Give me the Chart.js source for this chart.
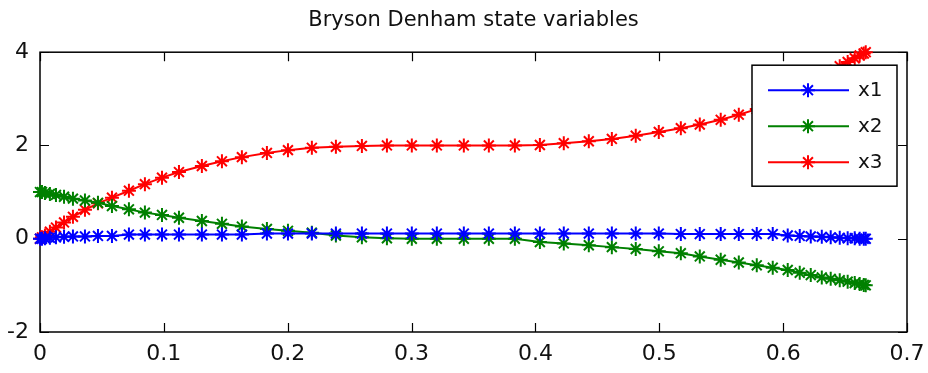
<!DOCTYPE html>
<html>
<head>
<meta charset="utf-8">
<title>Bryson Denham state variables</title>
<script src="https://cdn.jsdelivr.net/npm/chart.js@4.4.0/dist/chart.umd.min.js"></script>
<style>
  html, body { margin: 0; padding: 0; background: #fff; }
  #wrap { width: 928px; height: 373px; }
</style>
</head>
<body>
<div id="wrap"><canvas id="chart" width="928" height="373"></canvas></div>
<script>
/* --- Data --- */
const timeData = [
  0, 0.0016, 0.004, 0.008, 0.0129, 0.0194, 0.0266, 0.0363, 0.0468, 0.0581,
  0.0718, 0.0847, 0.0985, 0.1122, 0.1307, 0.1469, 0.1630, 0.1832, 0.2002, 0.2195,
  0.2389, 0.2599, 0.2801, 0.3002, 0.3204, 0.3422, 0.3624, 0.3834, 0.4036, 0.4229,
  0.4431, 0.4617, 0.4810, 0.4996, 0.5174, 0.5327, 0.5496, 0.5642, 0.5787, 0.5916,
  0.6037, 0.6134, 0.6223, 0.6312, 0.6384, 0.6457, 0.6521, 0.6578, 0.6618, 0.6651,
  0.6667
];
const x1Data = [
  0, 0, 0.01, 0.02, 0.03, 0.04, 0.05, 0.05, 0.06, 0.06,
  0.09, 0.09, 0.09, 0.09, 0.09, 0.09, 0.09, 0.11, 0.11, 0.11,
  0.11, 0.11, 0.11, 0.11, 0.11, 0.11, 0.11, 0.11, 0.11, 0.11,
  0.11, 0.11, 0.11, 0.11, 0.1, 0.1, 0.1, 0.1, 0.1, 0.1,
  0.07, 0.06, 0.05, 0.04, 0.03, 0.02, 0.01, 0.01, 0, 0,
  0
];
const x2Data = [
  1.0, 1.0, 0.98, 0.96, 0.94, 0.9, 0.86, 0.82, 0.77, 0.70,
  0.63, 0.56, 0.51, 0.45, 0.38, 0.32, 0.26, 0.21, 0.17, 0.13,
  0.07, 0.03, 0.01, 0, 0, 0, 0, 0, -0.07, -0.1,
  -0.14, -0.18, -0.22, -0.27, -0.31, -0.38, -0.45, -0.51, -0.57, -0.62,
  -0.67, -0.73, -0.78, -0.83, -0.86, -0.89, -0.92, -0.95, -0.97, -0.99,
  -1.0
];
const x3Data = [
  0, 0.03, 0.07, 0.15, 0.24, 0.35, 0.47, 0.62, 0.76, 0.88,
  1.03, 1.17, 1.31, 1.43, 1.56, 1.66, 1.75, 1.84, 1.9, 1.95,
  1.97, 1.99, 2.0, 2.0, 2.0, 2.0, 2.0, 2.0, 2.01, 2.05,
  2.09, 2.14, 2.21, 2.29, 2.37, 2.45, 2.55, 2.66, 2.78, 2.9,
  3.04, 3.17, 3.3, 3.44, 3.58, 3.7, 3.79, 3.87, 3.93, 3.97,
  4.0
];
const seriesNames = ['x1', 'x2', 'x3'];
const seriesColors = ['#0000ff', '#008000', '#ff0000'];

const FONT = "'DejaVu Sans', sans-serif";

function toPoints(ys) {
  return timeData.map((t, i) => ({ x: t, y: ys[i] }));
}

function makeDataset(i, ys) {
  return {
    label: seriesNames[i],
    data: toPoints(ys),
    borderColor: seriesColors[i],
    backgroundColor: seriesColors[i],
    borderWidth: 2,
    pointStyle: 'star',
    pointRadius: 7,
    pointBorderWidth: 2,
    pointBorderColor: seriesColors[i],
    tension: 0,
    clip: false
  };
}

/* --- MATLAB style box with inward ticks --- */
const boxAxes = {
  id: 'boxAxes',
  beforeDatasetsDraw(chart) {
    const { ctx, chartArea: a, scales } = chart;
    const len = 9;
    ctx.save();
    ctx.strokeStyle = '#000';
    ctx.lineWidth = 1.5;
    ctx.strokeRect(a.left, a.top, a.right - a.left, a.bottom - a.top);
    ctx.beginPath();
    scales.x.ticks.forEach(t => {
      const px = Math.round(scales.x.getPixelForValue(t.value)) + 0.5;
      ctx.moveTo(px, a.bottom); ctx.lineTo(px, a.bottom - len);
      ctx.moveTo(px, a.top); ctx.lineTo(px, a.top + len);
    });
    scales.y.ticks.forEach(t => {
      const py = Math.round(scales.y.getPixelForValue(t.value)) + 0.5;
      ctx.moveTo(a.left, py); ctx.lineTo(a.left + len, py);
      ctx.moveTo(a.right, py); ctx.lineTo(a.right - len, py);
    });
    ctx.lineWidth = 1.2;
    ctx.stroke();
    ctx.restore();
  }
};

/* --- Legend box in the upper right corner of the axes --- */
const boxLegend = {
  id: 'boxLegend',
  afterDraw(chart) {
    const { ctx, chartArea: a } = chart;
    const w = 145, h = 121;
    const left = a.right - 155, top = a.top + 13;
    ctx.save();
    ctx.fillStyle = '#fff';
    ctx.fillRect(left, top, w, h);
    ctx.strokeStyle = '#000';
    ctx.lineWidth = 1.5;
    ctx.strokeRect(left, top, w, h);
    chart.data.datasets.forEach((ds, i) => {
      const y = top + 25 + i * 36;
      ctx.strokeStyle = ds.borderColor;
      ctx.fillStyle = ds.borderColor;
      ctx.lineWidth = 2;
      ctx.beginPath();
      ctx.moveTo(left + 16, y);
      ctx.lineTo(left + 97, y);
      ctx.stroke();
      Chart.helpers.drawPoint(ctx, {
        pointStyle: 'star', radius: 7, borderWidth: 2, rotation: 0
      }, left + 56, y);
      ctx.fillStyle = '#111';
      ctx.font = '20px ' + FONT;
      ctx.textBaseline = 'middle';
      ctx.textAlign = 'left';
      ctx.fillText(ds.label, left + 106, y + 1);
    });
    ctx.restore();
  }
};

new Chart(document.getElementById('chart'), {
  type: 'line',
  data: {
    datasets: [
      makeDataset(0, x1Data),
      makeDataset(1, x2Data),
      makeDataset(2, x3Data)
    ]
  },
  options: {
    responsive: false,
    animation: false,
    events: [],
    layout: { padding: { left: 0, right: 21, top: 0, bottom: 0 } },
    plugins: {
      legend: { display: false },
      tooltip: { enabled: false },
      title: {
        display: true,
        text: 'Bryson Denham state variables',
        fullSize: false,
        color: '#111',
        font: { family: FONT, size: 21, weight: 'normal', lineHeight: 1.2 },
        padding: { top: 8, bottom: 19 }
      }
    },
    scales: {
      x: {
        type: 'linear',
        min: 0,
        max: 0.7,
        grid: { display: false, drawTicks: false },
        border: { display: false },
        ticks: {
          stepSize: 0.1,
          padding: 9,
          color: '#111',
          maxRotation: 0,
          font: { family: FONT, size: 22 }
        },
        afterFit(scale) {
          scale.height = 41;
          scale.paddingLeft = 0;
          scale.paddingRight = 0;
        }
      },
      y: {
        type: 'linear',
        min: -2,
        max: 4,
        grid: { display: false, drawTicks: false },
        border: { display: false },
        ticks: {
          stepSize: 2,
          padding: 11,
          color: '#111',
          font: { family: FONT, size: 22 }
        },
        afterFit(scale) {
          scale.width = 40;
          scale.paddingTop = 0;
          scale.paddingBottom = 0;
        }
      }
    }
  },
  plugins: [boxAxes, boxLegend]
});
</script>
</body>
</html>
